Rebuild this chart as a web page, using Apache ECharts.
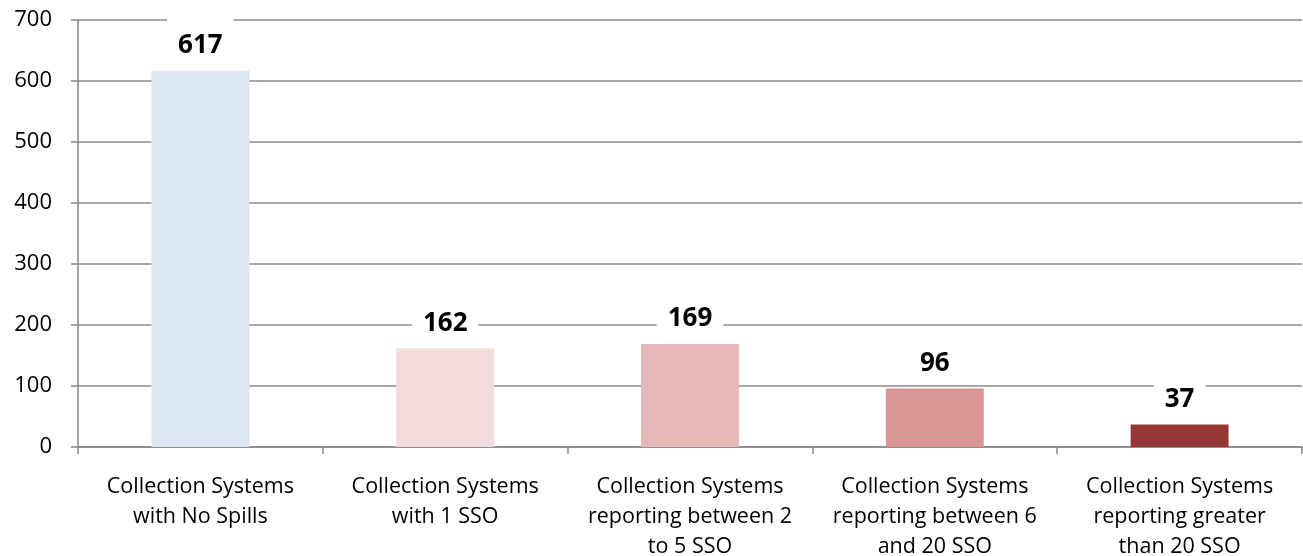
<!DOCTYPE html>
<html>
<head>
<meta charset="utf-8">
<script src="https://cdn.jsdelivr.net/npm/echarts@6/dist/echarts.min.js"></script>
<style>
html,body{margin:0;padding:0;background:#fff;}
#c{width:1303px;height:556px;}
</style>
</head>
<body>
<div id="c"></div>
<script>
var categories = [
  "Collection Systems\nwith No Spills",
  "Collection Systems\nwith 1 SSO",
  "Collection Systems\nreporting between 2\nto 5 SSO",
  "Collection Systems\nreporting between 6\nand 20 SSO",
  "Collection Systems\nreporting greater\nthan 20 SSO"
];
var values = [617, 162, 169, 96, 37];
var barColors = ["#DCE6F2", "#F2DCDB", "#E6B9B8", "#D99694", "#953735"];
var yTicks = { min: 0, max: 700, interval: 100 };

var fontFam = "'Open Sans', sans-serif";
var chart = echarts.init(document.getElementById('c'));
chart.setOption({
  animation: false,
  backgroundColor: '#fff',
  grid: { left: 78, right: 1, top: 20, bottom: 109, containLabel: false, outerBoundsMode: 'none' },
  xAxis: {
    type: 'category',
    data: categories,
    axisLine: { show: true, lineStyle: { color: '#868686', width: 1.5 } },
    axisTick: { show: true, length: 7, lineStyle: { color: '#868686', width: 1.5 } },
    axisLabel: { interval: 0, margin: 25, color: '#000', fontSize: 21.5, lineHeight: 30, fontFamily: fontFam }
  },
  yAxis: {
    type: 'value',
    min: yTicks.min, max: yTicks.max, interval: yTicks.interval,
    axisLine: { show: true, lineStyle: { color: '#868686', width: 1.5 } },
    axisTick: { show: true, length: 7, lineStyle: { color: '#868686', width: 1.5 } },
    splitLine: { show: true, lineStyle: { color: '#8c8c8c', width: 1.5 } },
    axisLabel: { margin: 26, color: '#000', fontSize: 22, fontFamily: fontFam }
  },
  series: [{
    type: 'bar',
    barWidth: '40%',
    data: values.map(function (v, i) { return { value: v, itemStyle: { color: barColors[i] } }; }),
    label: {
      show: true,
      position: 'top',
      distance: 8,
      color: '#000',
      fontWeight: 'bold',
      fontSize: 26,
      fontFamily: fontFam,
      backgroundColor: '#fff',
      padding: [16, 11, 4, 11]
    }
  }]
});
</script>
</body>
</html>
